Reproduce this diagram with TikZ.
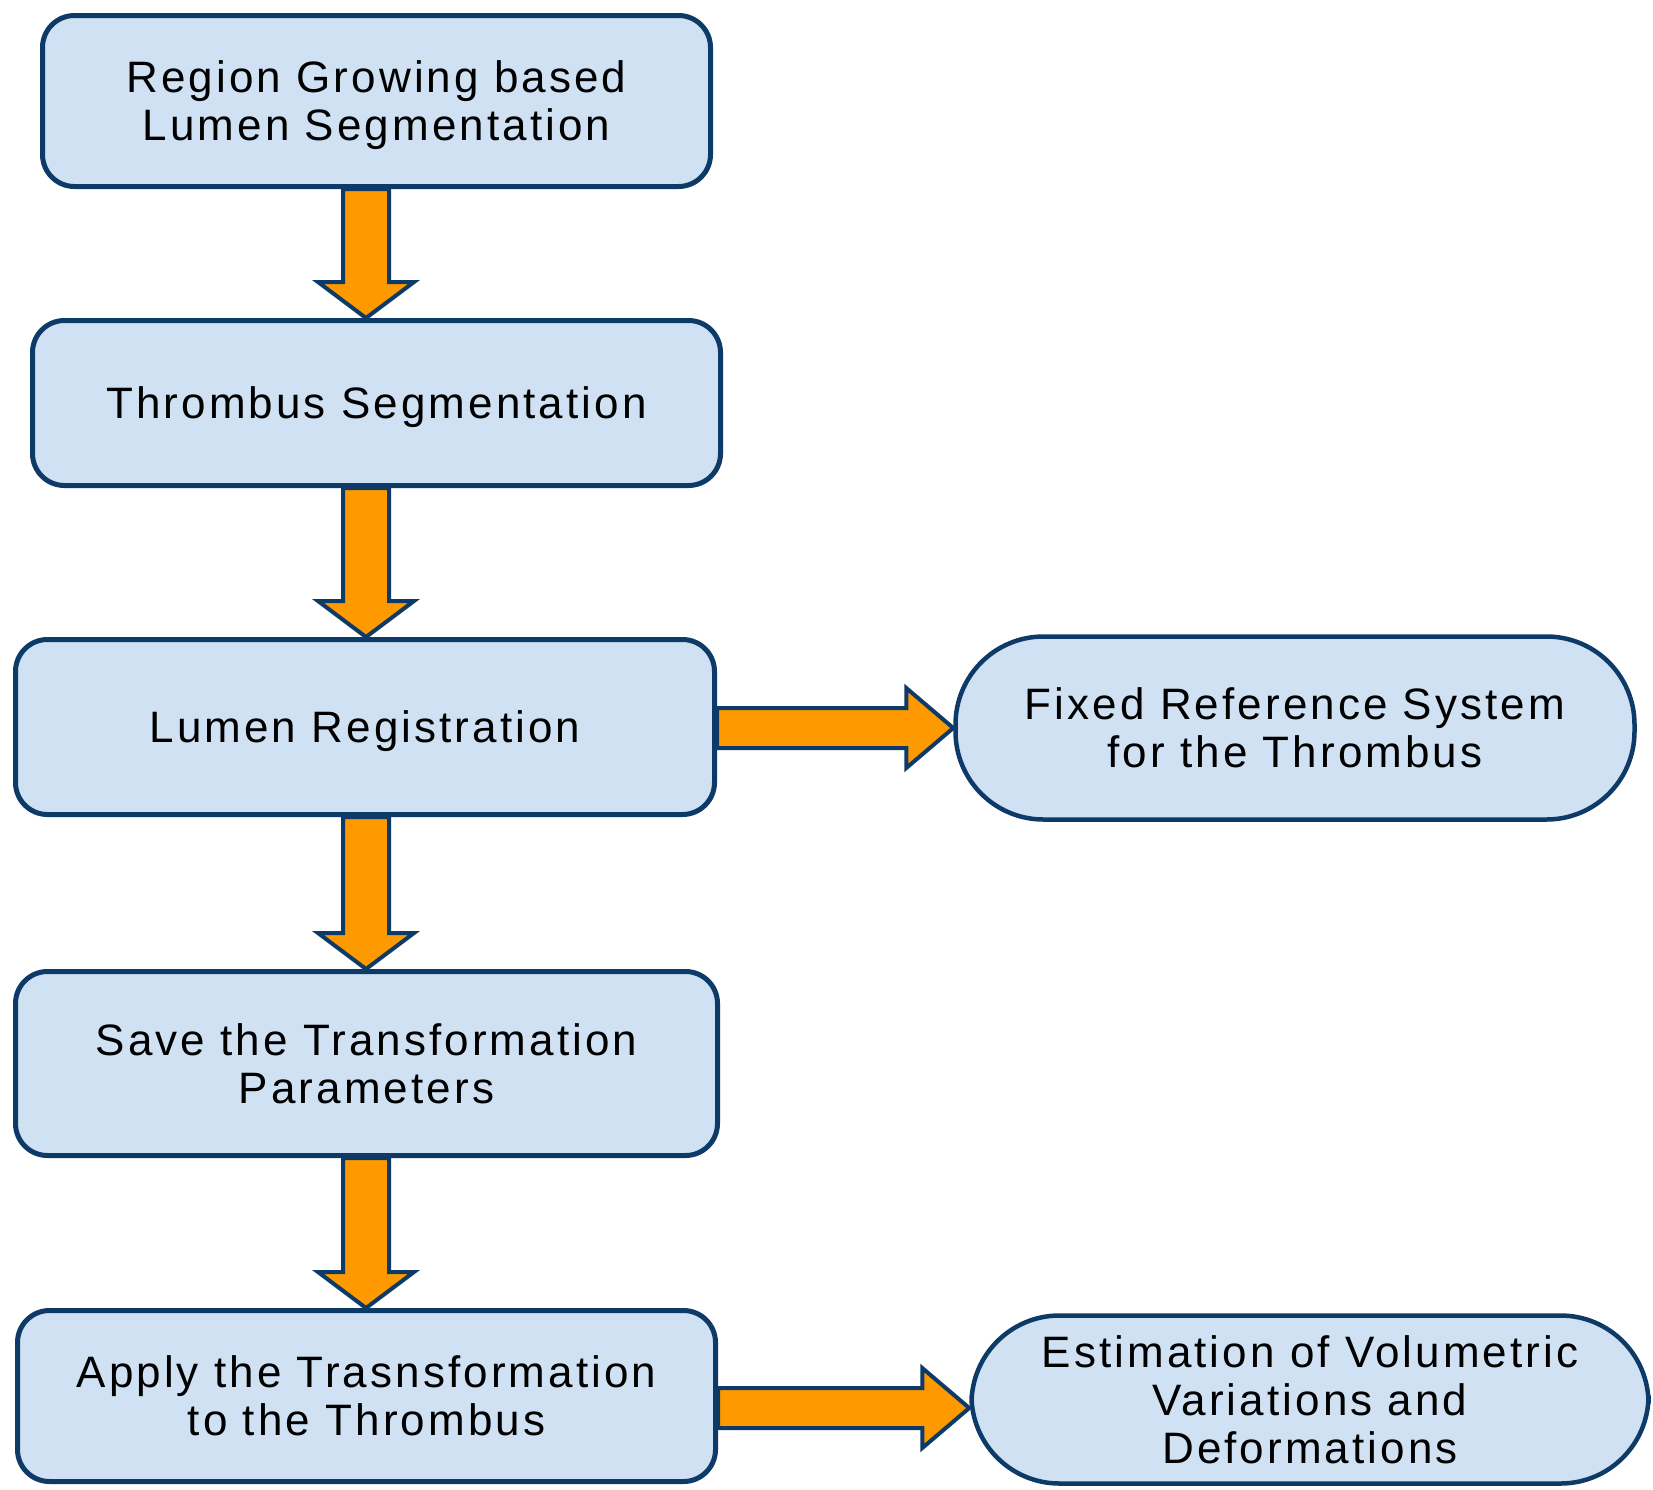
\documentclass[tikz,border=0pt]{standalone}
\usepackage{fontspec}
\setmainfont{Liberation Sans}[LetterSpace=7]
\usetikzlibrary{calc,backgrounds}
\definecolor{boxfill}{HTML}{CFE1F3}
\definecolor{navy}{HTML}{0D3A66}
\definecolor{orng}{HTML}{FF9900}
\tikzset{
  x=1pt, y=-1pt,
  stepbox/.style={draw=navy, line width=5pt, fill=boxfill, rounded corners=32pt,
    align=center, inner sep=0pt, text depth=0pt, font=\fontsize{44}{48}\selectfont, text=black},
  stadium/.style={draw=navy, line width=4.5pt, fill=boxfill, rounded corners=88pt,
    align=center, inner sep=0pt, text depth=0pt, font=\fontsize{44}{48}\selectfont, text=black},
  flow/.style={draw=navy, line width=4pt, fill=orng, line join=miter},
}
\newcommand\downflow[3]{%
  \draw[flow] ($(#1.south -| #3)+(-23,0)$) -- ($(#2.north -| #3)+(-23,-36)$)
    -- ($(#2.north -| #3)+(-48,-36)$) -- (#2.north -| #3)
    -- ($(#2.north -| #3)+(48,-36)$) -- ($(#2.north -| #3)+(23,-36)$)
    -- ($(#1.south -| #3)+(23,0)$) -- cycle;}
\newcommand\rightflow[3]{%
  \draw[flow] ($(#1.east |- #3)+(0,-20)$) -- ($(#2.west |- #3)+(-47,-20)$)
    -- ($(#2.west |- #3)+(-47,-40)$) -- (#2.west |- #3)
    -- ($(#2.west |- #3)+(-47,40)$) -- ($(#2.west |- #3)+(-47,20)$)
    -- ($(#1.east |- #3)+(0,20)$) -- cycle;}
\begin{document}
\begin{tikzpicture}
\useasboundingbox (0,0) rectangle (1653,1489);
\coordinate (ax) at (366,0);
\coordinate (r1) at (0,728);
\coordinate (r2) at (0,1408);
\node[stepbox, minimum width=668pt, minimum height=171pt] (b1) at (376.5,101)
  {Region Growing based\\Lumen Segmentation};
\node[stepbox, minimum width=688pt, minimum height=165pt] (b2) at (376.5,403)
  {Thrombus Segmentation};
\node[stepbox, minimum width=699pt, minimum height=175pt] (b3) at (365,727)
  {Lumen Registration};
\node[stepbox, minimum width=702pt, minimum height=184pt] (b4) at (366.5,1063.5)
  {Save the Transformation\\Parameters};
\node[stepbox, minimum width=698pt, minimum height=171pt] (b5) at (366.5,1396)
  {Apply the Trasnsformation\\to the Thrombus};
\node[stadium, minimum width=679pt, minimum height=183pt] (e1) at (1295,728)
  {Fixed Reference System\\for the Thrombus};
\node[stadium, minimum width=677pt, minimum height=168pt] (e2) at (1310,1399.5)
  {Estimation of Volumetric\\Variations and\\Deformations};
\begin{pgfonlayer}{background}
\downflow{b1}{b2}{ax}
\downflow{b2}{b3}{ax}
\downflow{b3}{b4}{ax}
\downflow{b4}{b5}{ax}
\rightflow{b3}{e1}{r1}
\rightflow{b5}{e2}{r2}
\end{pgfonlayer}
\end{tikzpicture}
\end{document}
